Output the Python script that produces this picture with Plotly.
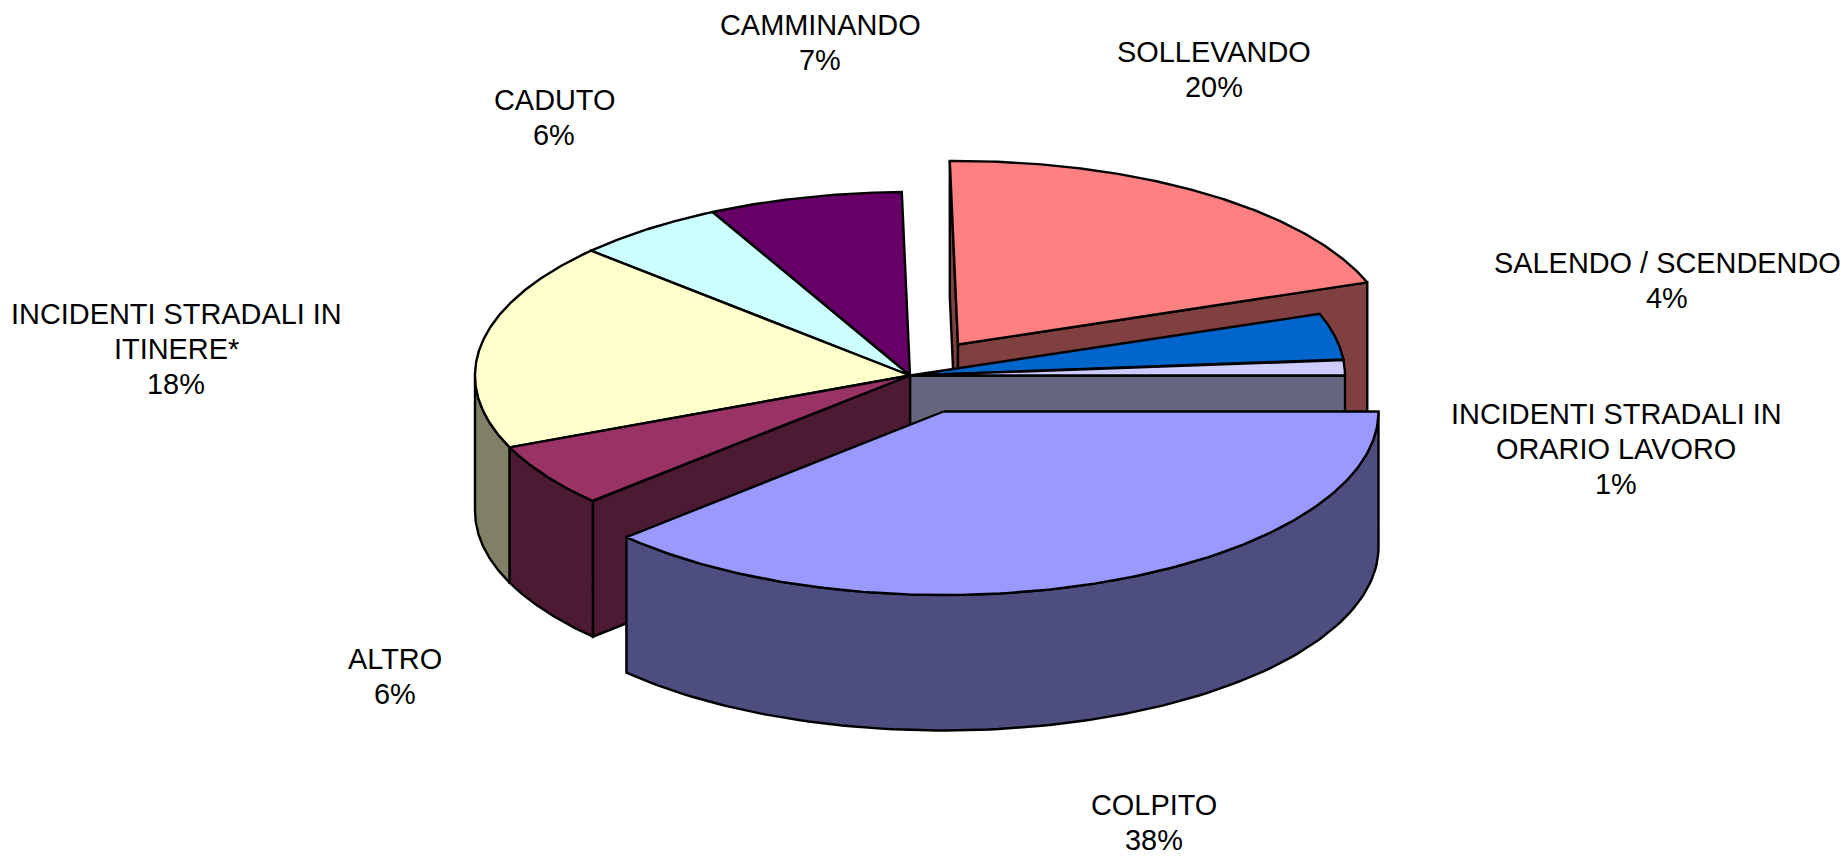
import numpy as np
import plotly.graph_objects as go

categories = ["COLPITO", "ALTRO", "INCIDENTI STRADALI IN<br>ITINERE*", "CADUTO", "CAMMINANDO",
              "SOLLEVANDO", "SALENDO / SCENDENDO", "INCIDENTI STRADALI IN<br>ORARIO LAVORO"]
values = [38.0, 5.6, 18.3, 5.6, 7.2, 19.8, 4.1, 1.4]
top_colors = ["#9999FF", "#993366", "#FFFFCC", "#CCFFFF", "#660066", "#FF8080", "#0066CC", "#CCCCFF"]
side_colors = ["#4D4D80", "#4D1A33", "#808066", "#668080", "#330033", "#804040", "#003366", "#666680"]
explode = [(33.5, 36), (0, 0), (0, 0), (0, 0), (0, 0), (48, -31), (0, 0), (0, 0)]
label_x = [1154, 395, 176, 554, 820, 1214, 1667, 1616]
label_y = [805, 659, 314, 100, 25, 52, 263, 414]
draw_order = [5, 4, 3, 2, 6, 7, 1, 0]

CX, CY, RX, RY, DEPTH = 910, 375.5, 435, 183.5, 135.5
LINE_H = 35
FONT = dict(family="Liberation Sans, Arial, sans-serif", size=28.9, color="#000000")

fig = go.Figure()


def poly(xs, ys, color, name):
    fig.add_trace(go.Scatter(x=list(xs) + [xs[0]], y=list(ys) + [ys[0]], mode="lines", fill="toself",
                             fillcolor=color, line=dict(color="#000000", width=2.4, shape="linear"),
                             hoverinfo="text", text=name, showlegend=False))


edges = np.concatenate([[0], np.cumsum(values)]) / sum(values) * 360.0
for i in draw_order:
    a0, a1 = edges[i], edges[i + 1]
    ox, oy = CX + explode[i][0], CY + explode[i][1]
    name = categories[i].replace("<br>", " ")
    px = lambda t: ox + RX * np.cos(np.radians(t))
    py = lambda t: oy + RY * np.sin(np.radians(t))
    # radial walls that face the viewer
    if np.sin(np.radians(a0 - 90)) > 0:
        poly([ox, px(a0), px(a0), ox], [oy, py(a0), py(a0) + DEPTH, oy + DEPTH], side_colors[i], name)
    if np.sin(np.radians(a1 + 90)) > 0:
        poly([ox, px(a1), px(a1), ox], [oy, py(a1), py(a1) + DEPTH, oy + DEPTH], side_colors[i], name)
    # outer wall (front half only)
    lo, hi = max(a0, 0.0), min(a1, 180.0)
    if hi > lo:
        t = np.linspace(lo, hi, 120)
        poly(np.r_[px(t), px(t[::-1])], np.r_[py(t), py(t[::-1]) + DEPTH], side_colors[i], name)
    # top face
    t = np.linspace(a0, a1, 160)
    poly(np.r_[ox, px(t)], np.r_[oy, py(t)], top_colors[i], name)

annotations = []
for name, v, x, y in zip(categories, values, label_x, label_y):
    for k, line in enumerate(name.split("<br>") + [f"{round(v)}%"]):
        annotations.append(dict(x=x, y=y + k * LINE_H, text=line, showarrow=False, font=FONT,
                                xanchor="center", yanchor="middle", xref="x", yref="y"))

fig.update_layout(
    width=1843, height=865, margin=dict(l=0, r=0, t=0, b=0),
    paper_bgcolor="#FFFFFF", plot_bgcolor="#FFFFFF", showlegend=False,
    xaxis=dict(range=[0, 1843], visible=False, fixedrange=True),
    yaxis=dict(range=[865, 0], visible=False, fixedrange=True),
    annotations=annotations,
)
fig.write_html("out.html", config={"displayModeBar": False},
               post_script="document.body.style.margin='0';document.documentElement.style.overflow='hidden';")
